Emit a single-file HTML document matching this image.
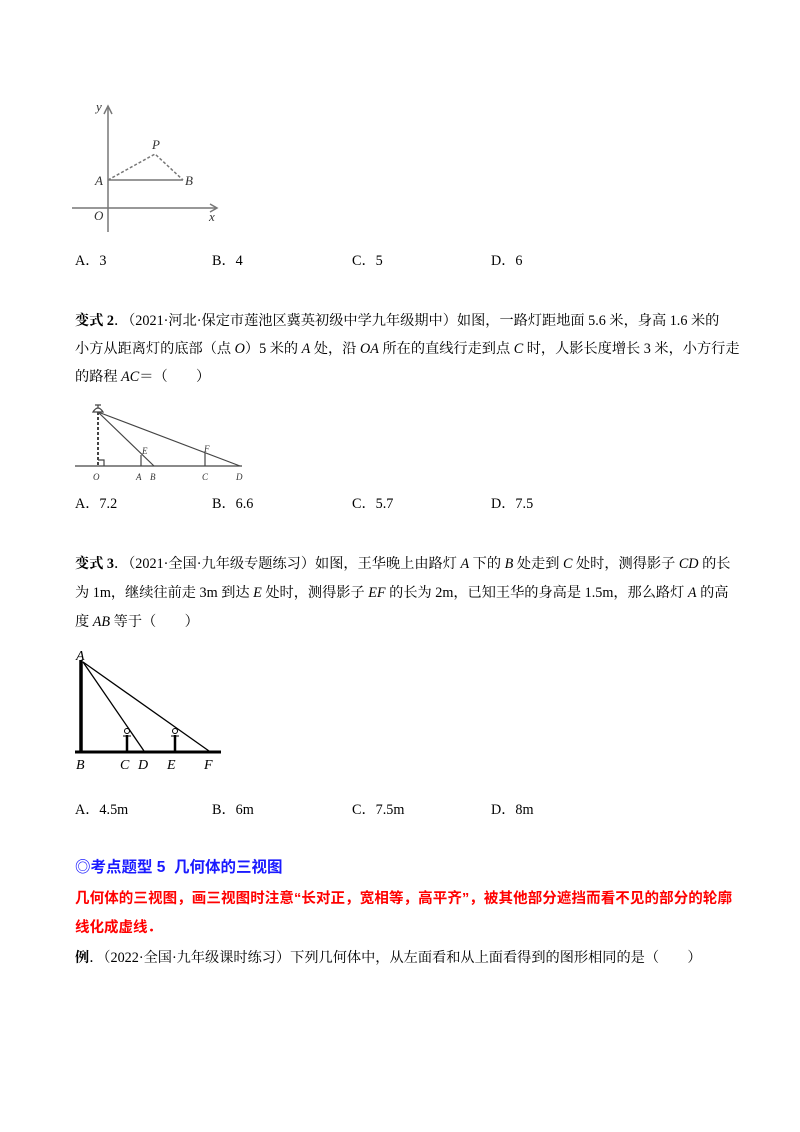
<!DOCTYPE html>
<html><head><meta charset="utf-8"><style>
body{margin:0;width:800px;height:1132px;background:#fff;position:relative;overflow:hidden;font-family:"Liberation Serif","Noto Serif CJK SC",serif;color:#000}
.l{position:absolute;left:75px;white-space:nowrap;font-size:14.2px;line-height:16px}
.b{font-weight:bold}
i{font-style:italic}
svg{position:absolute;left:0;top:0}
.o{position:absolute;white-space:nowrap;font-size:14.2px;line-height:16px}
</style></head><body>
<svg width="800" height="1132" font-family="Liberation Serif" font-style="italic">
<g stroke="#777" stroke-width="1.5" fill="none">
<line x1="108" y1="232" x2="108" y2="108"/><polyline points="104,114 108,106 112,114"/>
<line x1="72" y1="208" x2="216" y2="208"/><polyline points="210,204 217,208 210,212"/>
<line x1="108" y1="180" x2="183" y2="180"/>
<polyline points="108,180 155,154 183,180" stroke-dasharray="3,2"/>
</g>
<g font-size="13" fill="#333"><text x="96" y="111">y</text><text x="152" y="149">P</text><text x="95" y="185">A</text><text x="185" y="185">B</text><text x="94" y="220">O</text><text x="209" y="221">x</text></g>
<g stroke="#444" stroke-width="1.2" fill="none">
<line x1="75" y1="466" x2="242" y2="466"/>
<line x1="98" y1="412" x2="98" y2="466" stroke-dasharray="3,2" stroke-width="2"/>
<line x1="98" y1="412" x2="154" y2="466"/><line x1="98" y1="412" x2="240" y2="466"/>
<line x1="141" y1="466" x2="141" y2="455"/><line x1="205" y1="466" x2="205" y2="453"/>
<polyline points="98,460 104,460 104,466"/>
<path d="M93,412 Q98,404 103,412 Z M95,405 h6 M98,405 v3"/>
</g>
<g font-size="9" fill="#333"><text x="93" y="480">O</text><text x="136" y="480">A</text><text x="150" y="480">B</text><text x="142" y="454">E</text><text x="202" y="480">C</text><text x="236" y="480">D</text><text x="204" y="452">F</text></g>
<g stroke="#000" fill="none">
<line x1="81" y1="660" x2="81" y2="752" stroke-width="3.5"/>
<line x1="75" y1="752" x2="221" y2="752" stroke-width="3"/>
<line x1="83" y1="662" x2="144" y2="751" stroke-width="1.3"/>
<line x1="83" y1="662" x2="209" y2="751" stroke-width="1.3"/>
<line x1="127" y1="735" x2="127" y2="751" stroke-width="2.5"/>
<line x1="175" y1="735" x2="175" y2="751" stroke-width="2.5"/>
<circle cx="127" cy="731" r="2.5" stroke-width="1"/><circle cx="175" cy="731" r="2.5" stroke-width="1"/>
<line x1="123" y1="736" x2="131" y2="736"/><line x1="171" y1="736" x2="179" y2="736"/>
</g>
<g font-size="14" fill="#000"><text x="76" y="660">A</text><text x="76" y="769">B</text><text x="120" y="769">C</text><text x="138" y="769">D</text><text x="167" y="769">E</text><text x="204" y="769">F</text></g>
</svg>

<div class="o" style="left:75px;top:253px">A．3</div>
<div class="o" style="left:212px;top:253px">B．4</div>
<div class="o" style="left:352px;top:253px">C．5</div>
<div class="o" style="left:491px;top:253px">D．6</div>

<div class="l" style="top:313px"><span class="b">变式 2</span>．（2021·河北·保定市莲池区冀英初级中学九年级期中）如图，一路灯距地面 5.6 米，身高 1.6 米的</div>
<div class="l" style="top:341px">小方从距离灯的底部（点 <i>O</i>）5 米的 <i>A</i> 处，沿 <i>OA</i> 所在的直线行走到点 <i>C</i> 时，人影长度增长 3 米，小方行走</div>
<div class="l" style="top:369px">的路程 <i>AC</i>＝（　　）</div>

<div class="o" style="left:75px;top:496px">A．7.2</div>
<div class="o" style="left:212px;top:496px">B．6.6</div>
<div class="o" style="left:352px;top:496px">C．5.7</div>
<div class="o" style="left:491px;top:496px">D．7.5</div>

<div class="l" style="top:556px"><span class="b">变式 3</span>．（2021·全国·九年级专题练习）如图，王华晚上由路灯 <i>A</i> 下的 <i>B</i> 处走到 <i>C</i> 处时，测得影子 <i>CD</i> 的长</div>
<div class="l" style="top:585px">为 1m，继续往前走 3m 到达 <i>E</i> 处时，测得影子 <i>EF</i> 的长为 2m，已知王华的身高是 1.5m，那么路灯 <i>A</i> 的高</div>
<div class="l" style="top:614px">度 <i>AB</i> 等于（　　）</div>

<div class="o" style="left:75px;top:802px">A．4.5m</div>
<div class="o" style="left:212px;top:802px">B．6m</div>
<div class="o" style="left:352px;top:802px">C．7.5m</div>
<div class="o" style="left:491px;top:802px">D．8m</div>

<div class="l b" style="top:860px;color:#1a1aff;font-family:'Liberation Sans','Noto Sans CJK SC',sans-serif;font-size:15.5px">◎考点题型 5&nbsp; 几何体的三视图</div>
<div class="l b" style="top:891px;color:#ff0000;font-family:'Liberation Sans','Noto Sans CJK SC',sans-serif;font-size:14.5px;letter-spacing:0.1px">几何体的三视图，画三视图时注意“长对正，宽相等，高平齐”，被其他部分遮挡而看不见的部分的轮廓</div>
<div class="l b" style="top:920px;color:#ff0000;font-family:'Liberation Sans','Noto Sans CJK SC',sans-serif;font-size:14.5px">线化成虚线．</div>
<div class="l" style="top:950px"><span class="b">例</span>．（2022·全国·九年级课时练习）下列几何体中，从左面看和从上面看得到的图形相同的是（　　）</div>
</body></html>
